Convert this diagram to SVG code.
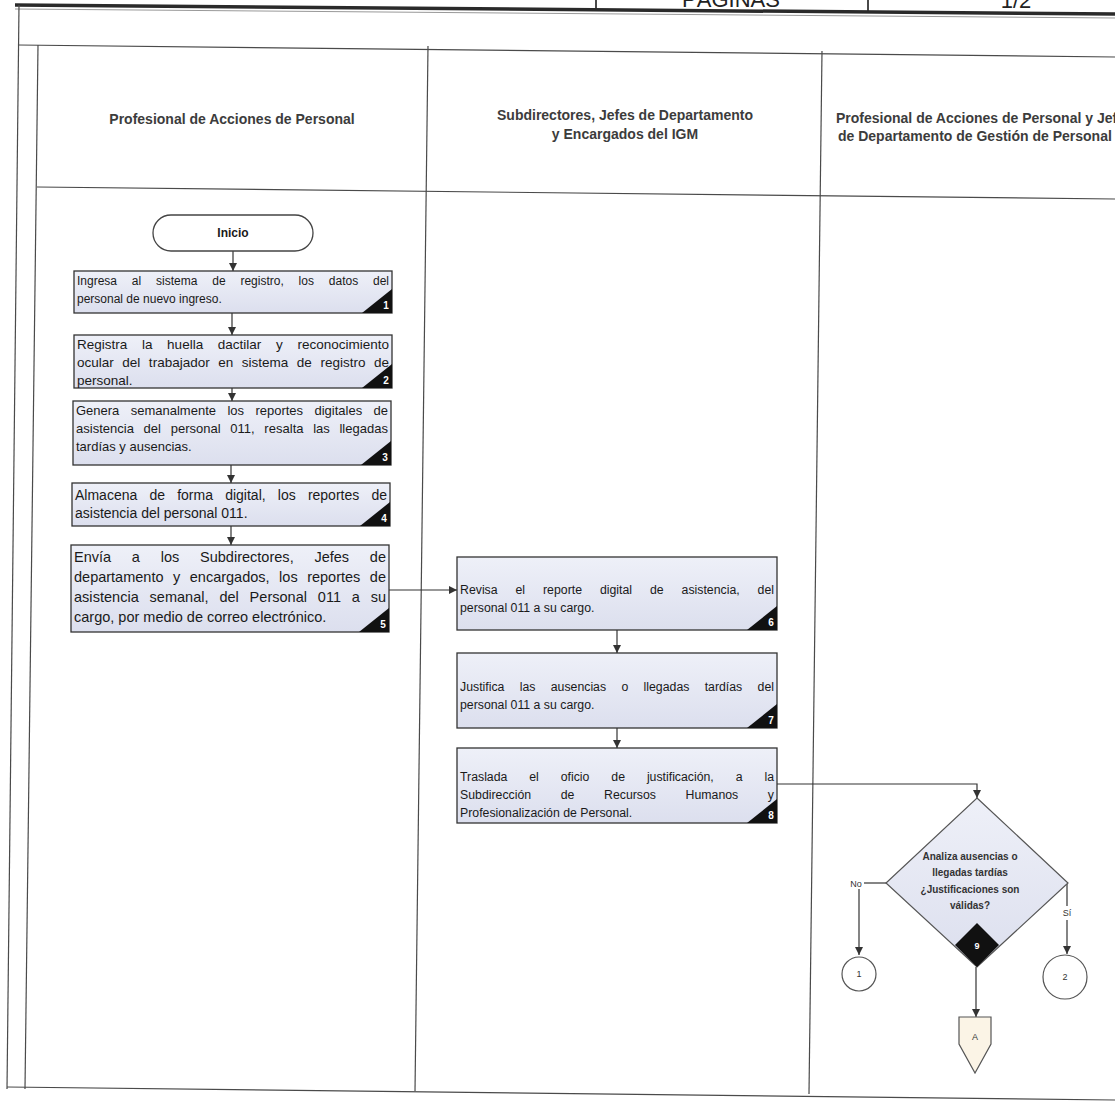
<svg xmlns="http://www.w3.org/2000/svg" width="1115" height="1102" viewBox="0 0 1115 1102">
<defs>
<linearGradient id="boxFill" x1="0" y1="0" x2="0" y2="1"><stop offset="0" stop-color="#eef0f8"/><stop offset="1" stop-color="#dcdfee"/></linearGradient>
<marker id="arrow" viewBox="0 0 10 10" refX="10" refY="5" markerWidth="8" markerHeight="8" markerUnits="userSpaceOnUse" orient="auto"><path d="M0,0 L10,5 L0,10 z" fill="#333"/></marker>
<style>
.frame{stroke:#4a4a4a;stroke-width:1.2;fill:none}
.thick{stroke:#2a2a2a;stroke-width:3.5;fill:none}
.hdr{font-family:'Liberation Sans',Arial,sans-serif;font-size:22px;fill:#222;text-anchor:middle}
.lane{font-family:'Liberation Sans',Arial,sans-serif;font-size:14px;font-weight:bold;fill:#3c3c3c}
.box{fill:url(#boxFill);stroke:#333;stroke-width:1.3}
.bt{font-family:'Liberation Sans',Arial,sans-serif;font-size:13px;fill:#1a1a1a}
.s12{font-size:12px}
.s123{font-size:12.3px}
.s135{font-size:13.5px}
.s14{font-size:14px}
.s145{font-size:14.5px}
.tri{fill:#111}
.num{font-family:'Liberation Sans',Arial,sans-serif;font-size:10px;font-weight:bold;fill:#fff;text-anchor:middle}
.conn{stroke:#333;stroke-width:1.2;fill:none}
.small{font-family:'Liberation Sans',Arial,sans-serif;font-size:9px;fill:#333;text-anchor:middle}
.dtext{font-family:'Liberation Sans',Arial,sans-serif;font-size:10px;font-weight:bold;fill:#333;text-anchor:middle}
.term{fill:#fff;stroke:#444;stroke-width:1.3}
.circ{fill:#fff;stroke:#555;stroke-width:1.2}
</style>
</defs>
<rect width="1115" height="1102" fill="#fff"/>

<g id="frame">
<line class="frame" x1="596" y1="0" x2="596" y2="10" style="stroke-width:2"/>
<line class="frame" x1="868" y1="0" x2="868" y2="12" style="stroke-width:2"/>
<text class="hdr" x="731" y="7">PÁGINAS</text>
<text class="hdr" x="1016" y="8">1/2</text>
<line class="thick" x1="15" y1="5" x2="1115" y2="14"/>
<line class="frame" x1="15" y1="9" x2="1115" y2="18" style="stroke:#999;stroke-width:1"/>
<line class="frame" x1="19" y1="5" x2="7" y2="1089"/>
<line class="frame" x1="18" y1="45" x2="1115" y2="57"/>
<line class="frame" x1="38" y1="45" x2="25" y2="1089"/>
<line class="frame" x1="428" y1="46" x2="415" y2="1091"/>
<line class="frame" x1="822" y1="51" x2="809" y2="1094"/>
<line class="frame" x1="37" y1="187" x2="1115" y2="199"/>
<line class="frame" x1="7" y1="1087" x2="1115" y2="1100"/>
</g>

<g id="lanes">
<text class="lane" x="232" y="124" text-anchor="middle">Profesional de Acciones de Personal</text>
<text class="lane" x="625" y="120" text-anchor="middle">Subdirectores, Jefes de Departamento</text>
<text class="lane" x="625" y="139" text-anchor="middle">y Encargados del IGM</text>
<text class="lane" x="836" y="123">Profesional de Acciones de Personal y Jefe</text>
<text class="lane" x="838" y="141">de Departamento de Gestión de Personal</text>
</g>

<g id="connectors">
<line class="conn" x1="233" y1="251" x2="233" y2="271" marker-end="url(#arrow)"/>
<line class="conn" x1="232" y1="313" x2="232" y2="335" marker-end="url(#arrow)"/>
<line class="conn" x1="232" y1="388" x2="232" y2="401" marker-end="url(#arrow)"/>
<line class="conn" x1="231" y1="465" x2="231" y2="483" marker-end="url(#arrow)"/>
<line class="conn" x1="231" y1="526" x2="231" y2="545" marker-end="url(#arrow)"/>
<line class="conn" x1="389" y1="590" x2="457" y2="590" marker-end="url(#arrow)"/>
<line class="conn" x1="617" y1="630" x2="617" y2="653" marker-end="url(#arrow)"/>
<line class="conn" x1="617" y1="728" x2="617" y2="748" marker-end="url(#arrow)"/>
<polyline class="conn" points="777,784 977,784 977,798" marker-end="url(#arrow)"/>
<line class="conn" x1="886" y1="883" x2="864" y2="883"/>
<line class="conn" x1="859" y1="889" x2="859" y2="955" marker-end="url(#arrow)"/>
<line class="conn" x1="1067" y1="883" x2="1067" y2="906"/>
<line class="conn" x1="1067" y1="920" x2="1067" y2="954" marker-end="url(#arrow)"/>
<line class="conn" x1="976" y1="967" x2="976" y2="1017" marker-end="url(#arrow)"/>
<text class="small" x="856" y="887">No</text>
<text class="small" x="1067" y="916">Sí</text>
</g>

<g id="inicio">
<rect class="term" x="153" y="215" width="160" height="36" rx="18"/>
<text class="bt" x="233" y="237" text-anchor="middle" style="font-weight:bold;font-size:12px">Inicio</text>
</g>

<g id="step1">
<rect class="box" x="74" y="271" width="318" height="42"/>
<text class="bt s12" x="77" y="285" word-spacing="11.5" textLength="312" lengthAdjust="spacing">Ingresa al sistema de registro, los datos del</text>
<text class="bt s12" x="77" y="303">personal de nuevo ingreso.</text>
<polygon class="tri" points="362,313 392,313 392,289"/>
<text class="num" x="386" y="309">1</text>
</g>

<g id="step2">
<rect class="box" x="74" y="335" width="318" height="53"/>
<text class="bt s135" x="77" y="349" word-spacing="10.9" textLength="312" lengthAdjust="spacing">Registra la huella dactilar y reconocimiento</text>
<text class="bt s135" x="77" y="367" word-spacing="4.8" textLength="312" lengthAdjust="spacing">ocular del trabajador en sistema de registro de</text>
<text class="bt s135" x="77" y="385">personal.</text>
<polygon class="tri" points="362,388 392,388 392,364"/>
<text class="num" x="386" y="384">2</text>
</g>

<g id="step3">
<rect class="box" x="73" y="401" width="318" height="64"/>
<text class="bt" x="76" y="415" word-spacing="7.8" textLength="312" lengthAdjust="spacing">Genera semanalmente los reportes digitales de</text>
<text class="bt" x="76" y="433" word-spacing="6" textLength="312" lengthAdjust="spacing">asistencia del personal 011, resalta las llegadas</text>
<text class="bt" x="76" y="451">tardías y ausencias.</text>
<polygon class="tri" points="361,465 391,465 391,441"/>
<text class="num" x="385" y="461">3</text>
</g>

<g id="step4">
<rect class="box" x="72" y="483" width="318" height="43"/>
<text class="bt s14" x="75" y="500" word-spacing="8.3" textLength="312" lengthAdjust="spacing">Almacena de forma digital, los reportes de</text>
<text class="bt s14" x="75" y="518">asistencia del personal 011.</text>
<polygon class="tri" points="360,526 390,526 390,502"/>
<text class="num" x="384" y="522">4</text>
</g>

<g id="step5">
<rect class="box" x="71" y="545" width="318" height="87"/>
<text class="bt s145" x="74" y="562" word-spacing="16.7" textLength="312" lengthAdjust="spacing">Envía a los Subdirectores, Jefes de</text>
<text class="bt s145" x="74" y="582" word-spacing="5.5" textLength="312" lengthAdjust="spacing">departamento y encargados, los reportes de</text>
<text class="bt s145" x="74" y="602" word-spacing="6.7" textLength="312" lengthAdjust="spacing">asistencia semanal, del Personal 011 a su</text>
<text class="bt s145" x="74" y="622">cargo, por medio de correo electrónico.</text>
<polygon class="tri" points="359,632 389,632 389,608"/>
<text class="num" x="383" y="628">5</text>
</g>

<g id="step6">
<rect class="box" x="457" y="557" width="320" height="73"/>
<text class="bt s123" x="460" y="594" word-spacing="14.5" textLength="314" lengthAdjust="spacing">Revisa el reporte digital de asistencia, del</text>
<text class="bt s123" x="460" y="612">personal 011 a su cargo.</text>
<polygon class="tri" points="747,630 777,630 777,606"/>
<text class="num" x="771" y="626">6</text>
</g>

<g id="step7">
<rect class="box" x="457" y="653" width="320" height="75"/>
<text class="bt s123" x="460" y="691" word-spacing="11.9" textLength="314" lengthAdjust="spacing">Justifica las ausencias o llegadas tardías del</text>
<text class="bt s123" x="460" y="709">personal 011 a su cargo.</text>
<polygon class="tri" points="747,728 777,728 777,704"/>
<text class="num" x="771" y="724">7</text>
</g>

<g id="step8">
<rect class="box" x="457" y="748" width="320" height="75"/>
<text class="bt s123" x="460" y="781" word-spacing="18.5" textLength="314" lengthAdjust="spacing">Traslada el oficio de justificación, a la</text>
<text class="bt s123" x="460" y="799" word-spacing="26.2" textLength="314" lengthAdjust="spacing">Subdirección de Recursos Humanos y</text>
<text class="bt s123" x="460" y="817">Profesionalización de Personal.</text>
<polygon class="tri" points="747,823 777,823 777,799"/>
<text class="num" x="771" y="819">8</text>
</g>

<g id="decision9">
<polygon class="box" points="977,798 1068,883 977,967 886,883" style="stroke:#555;stroke-width:1.2"/>
<text class="dtext" x="970" y="860">Analiza ausencias o</text>
<text class="dtext" x="970" y="876">llegadas tardías</text>
<text class="dtext" x="970" y="893">¿Justificaciones son</text>
<text class="dtext" x="970" y="909">válidas?</text>
<polygon class="tri" points="977,923 999,945 977,967 955,945"/>
<text class="num" x="977" y="949" style="font-size:9px">9</text>
</g>

<g id="connector1">
<circle class="circ" cx="859" cy="974" r="17"/>
<text class="small" x="859" y="977">1</text>
</g>

<g id="connector2">
<circle class="circ" cx="1065" cy="977" r="22"/>
<text class="small" x="1065" y="980">2</text>
</g>

<g id="offpageA">
<polygon points="959,1017 991,1017 991,1044 975,1073 959,1044" fill="#fbf4e6" stroke="#555" stroke-width="1.2"/>
<text class="small" x="975" y="1040">A</text>
</g>
</svg>
